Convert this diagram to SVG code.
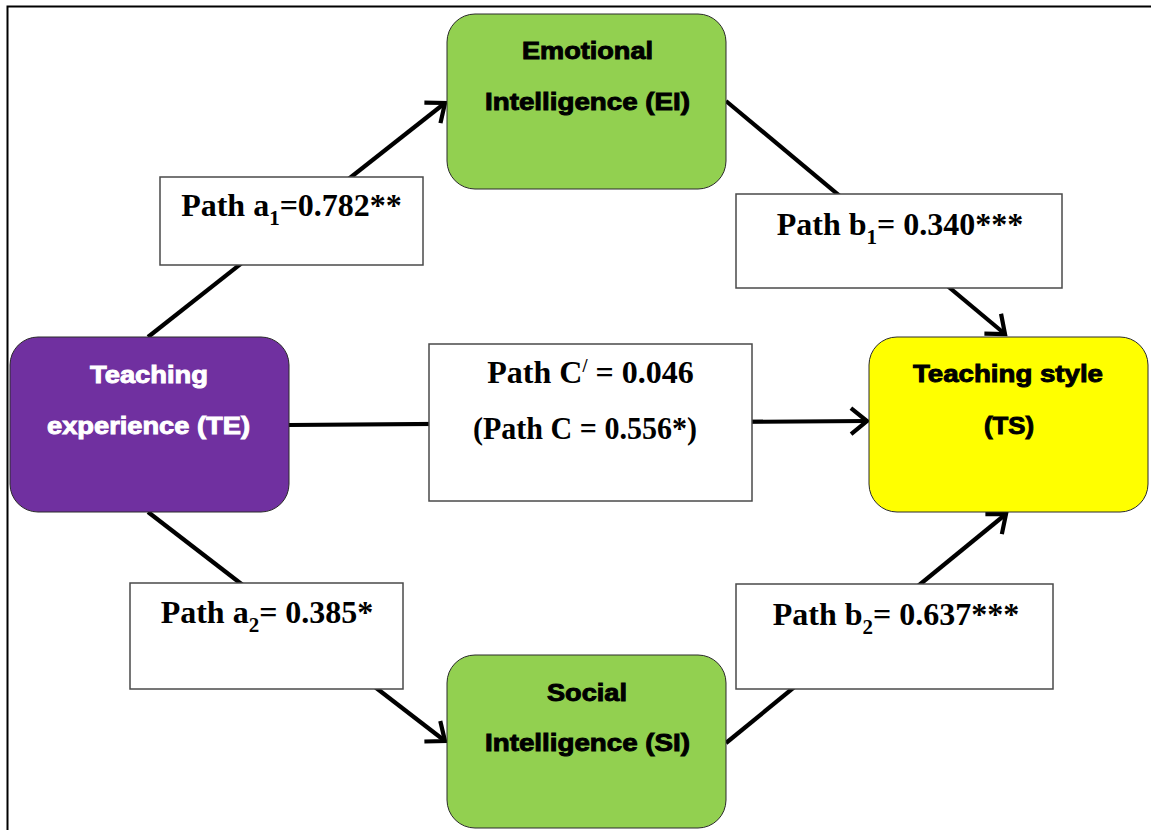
<svg xmlns="http://www.w3.org/2000/svg" width="1151" height="830" viewBox="0 0 1151 830">
  <defs>
    <style>
      .node { stroke: #2a2a2a; stroke-width: 1; }
      .ntext { font-family: "Liberation Sans", Arial, sans-serif; font-weight: bold; font-size: 23px; text-anchor: middle; stroke-width: 0.9; }
      .dark { fill: #000; stroke: #000; }
      .light { fill: #fff; stroke: #fff; }
      .edge { stroke: #000; stroke-width: 4.2; fill: none; }
      .lbox { fill: #fff; stroke: #4a4a4a; stroke-width: 1.5; }
      .ltext { font-family: "Liberation Serif", "Times New Roman", serif; font-weight: bold; font-size: 32px; text-anchor: middle; fill: #000; }
      .sub { font-size: 21px; }
    </style>
    <marker id="arrow" markerUnits="userSpaceOnUse" markerWidth="40" markerHeight="40" viewBox="-20 -20 40 40" refX="0" refY="0" orient="auto" overflow="visible">
      <path d="M-16,-13 L0,0 L-16,13" fill="none" stroke="#000" stroke-width="4.2" stroke-linejoin="miter"/>
    </marker>
  </defs>

  <rect width="1151" height="830" fill="#fff"/>

  <!-- outer frame: left and top rules -->
  <path d="M7.5,830 V6.5 H1151" fill="none" stroke="#000" stroke-width="2"/>

  <!-- connectors -->
  <g id="connectors">
    <line class="edge" x1="148" y1="337" x2="445" y2="103" marker-end="url(#arrow)"/>
    <line class="edge" x1="726" y1="101" x2="1005" y2="334" marker-end="url(#arrow)"/>
    <line class="edge" x1="289" y1="425" x2="867" y2="421" stroke-width="5" marker-end="url(#arrow)"/>
    <line class="edge" x1="148" y1="512" x2="445" y2="741" marker-end="url(#arrow)"/>
    <line class="edge" x1="726" y1="743" x2="1006" y2="514" marker-end="url(#arrow)"/>
  </g>

  <!-- path coefficient labels -->
  <g id="labels">
    <g id="label-a1">
      <rect class="lbox" x="160" y="177" width="263" height="88"/>
      <text class="ltext" x="291.5" y="216">Path a<tspan class="sub" dy="9">1</tspan><tspan dy="-9">=0.782**</tspan></text>
    </g>
    <g id="label-b1">
      <rect class="lbox" x="736" y="194" width="326" height="94"/>
      <text class="ltext" x="900" y="235">Path b<tspan class="sub" dy="9">1</tspan><tspan dy="-9">= 0.340***</tspan></text>
    </g>
    <g id="label-c">
      <rect class="lbox" x="429" y="344" width="323" height="157"/>
      <text class="ltext" x="590.5" y="383" font-size="31">Path C<tspan font-size="18" dy="-11">/</tspan><tspan dy="11"> = 0.046</tspan></text>
      <text class="ltext" x="585" y="439" font-size="31" textLength="224" lengthAdjust="spacingAndGlyphs">(Path C = 0.556*)</text>
    </g>
    <g id="label-a2">
      <rect class="lbox" x="130" y="583" width="273" height="106"/>
      <text class="ltext" x="267" y="623">Path a<tspan class="sub" dy="9">2</tspan><tspan dy="-9">= 0.385*</tspan></text>
    </g>
    <g id="label-b2">
      <rect class="lbox" x="736" y="584" width="317" height="105"/>
      <text class="ltext" x="896" y="625">Path b<tspan class="sub" dy="9">2</tspan><tspan dy="-9">= 0.637***</tspan></text>
    </g>
  </g>

  <!-- construct nodes -->
  <g id="node-ei">
    <rect class="node" x="447" y="14" width="279" height="175" rx="28" fill="#92D050"/>
    <text class="ntext dark" x="587.5" y="59" textLength="131" lengthAdjust="spacingAndGlyphs">Emotional</text>
    <text class="ntext dark" x="587.5" y="110" textLength="205" lengthAdjust="spacingAndGlyphs">Intelligence (EI)</text>
  </g>
  <g id="node-te">
    <rect class="node" x="10" y="337" width="279" height="175" rx="28" fill="#7030A0"/>
    <text class="ntext light" x="149" y="383" textLength="118" lengthAdjust="spacingAndGlyphs">Teaching</text>
    <text class="ntext light" x="148.5" y="434" textLength="203" lengthAdjust="spacingAndGlyphs">experience (TE)</text>
  </g>
  <g id="node-ts">
    <rect class="node" x="869" y="337" width="279" height="175" rx="28" fill="#FFFF00"/>
    <text class="ntext dark" x="1008" y="382" textLength="190" lengthAdjust="spacingAndGlyphs">Teaching style</text>
    <text class="ntext dark" x="1009" y="434" textLength="50" lengthAdjust="spacingAndGlyphs">(TS)</text>
  </g>
  <g id="node-si">
    <rect class="node" x="447" y="655" width="279" height="173" rx="28" fill="#92D050"/>
    <text class="ntext dark" x="587" y="701" textLength="80" lengthAdjust="spacingAndGlyphs">Social</text>
    <text class="ntext dark" x="587.5" y="751" textLength="205" lengthAdjust="spacingAndGlyphs">Intelligence (SI)</text>
  </g>
</svg>
